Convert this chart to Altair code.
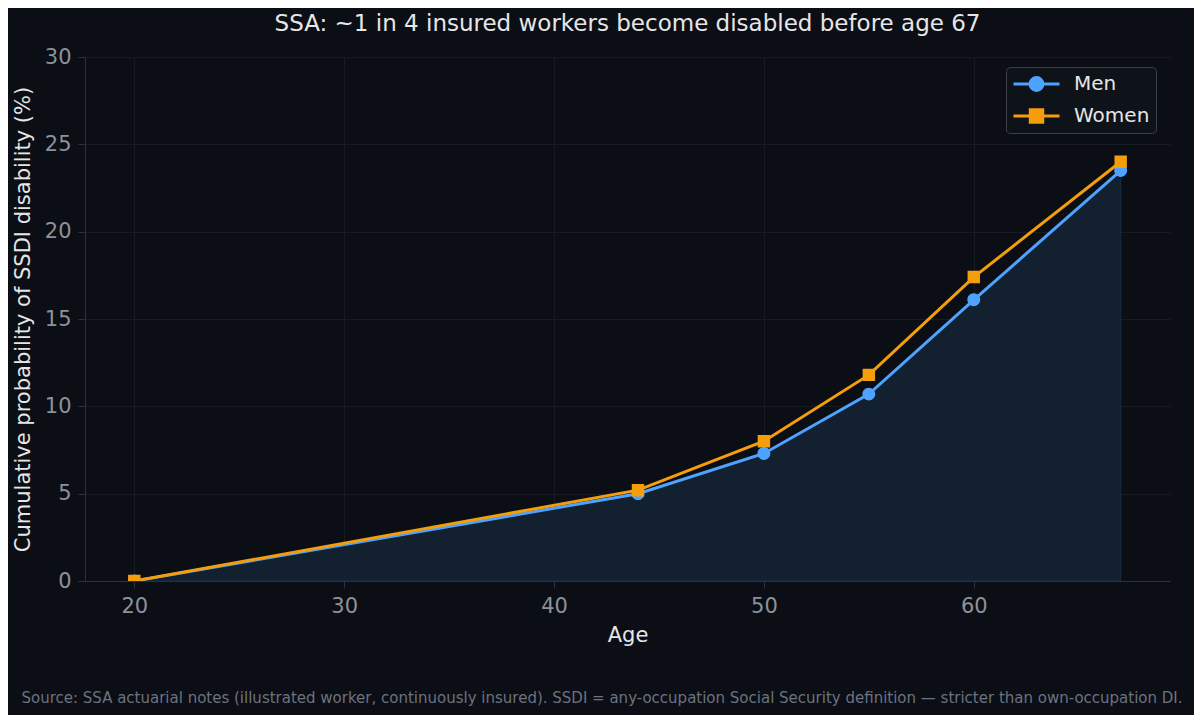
import altair as alt
import pandas as pd

ages = [20, 44, 50, 55, 60, 67]
men = [0.0, 5.0, 7.3, 10.7, 16.1, 23.5]
women = [0.0, 5.2, 8.0, 11.8, 17.4, 24.0]
series = ["Men", "Women"]
x_ticks = [20, 30, 40, 50, 60]
y_ticks = [0, 5, 10, 15, 20, 25, 30]

title = "SSA: ~1 in 4 insured workers become disabled before age 67"
source = ("Source: SSA actuarial notes (illustrated worker, continuously insured). "
          "SSDI = any-occupation Social Security definition \u2014 stricter than own-occupation DI.")

BG = "#0b0e14"
FONT = "DejaVu Sans"

df = pd.DataFrame({
    "Age": ages * 2,
    "Pct": men + women,
    "Series": ["Men"] * len(ages) + ["Women"] * len(ages),
})
df_men = df[df["Series"] == "Men"]

# legend symbols: a stroke segment with a marker in the middle
circle = "M-1,0H1M-0.28,0A0.28,0.28,0,1,1,0.28,0A0.28,0.28,0,1,1,-0.28,0Z"
square = "M-1,0H1M-0.27,-0.27H0.27V0.27H-0.27Z"

colors = alt.Scale(domain=series, range=["#4da3ff", "#f59e0b"])
shapes = alt.Scale(domain=series, range=[circle, square])

x = alt.X("Age:Q", scale=alt.Scale(domain=[17.65, 69.35], nice=False, zero=False),
          axis=alt.Axis(values=x_ticks, title="Age"))
y = alt.Y("Pct:Q", scale=alt.Scale(domain=[0, 30], nice=False),
          axis=alt.Axis(values=y_ticks, title="Cumulative probability of SSDI disability (%)"))

legend = alt.Legend(
    orient="none", legendX=921, legendY=10, title=None,
    symbolSize=2116, clipHeight=22, rowPadding=10, padding=6,
    fillColor="#0e1219", strokeColor="#3a3f48", cornerRadius=4,
    labelFontSize=20, labelColor="#e6e6e6", labelFont=FONT, labelOffset=13,
    symbolStrokeWidth=3,
)

area = alt.Chart(df_men).mark_area(color="#13202f", stroke="#1c2c42", strokeWidth=1).encode(x=x, y=y)

lines = alt.Chart(df).mark_line(strokeWidth=3, clip=True).encode(
    x=x, y=y, stroke=alt.Stroke("Series:N", scale=colors, legend=legend)
)

points = alt.Chart(df).mark_point(filled=True, size=2116, opacity=1, clip=True).encode(
    x=x, y=y,
    fill=alt.Fill("Series:N", scale=colors, legend=legend),
    shape=alt.Shape("Series:N", scale=shapes, legend=legend),
)

note = alt.Chart(pd.DataFrame({"t": [source]})).mark_text(
    font=FONT, fontSize=15, color="#6b7280", align="center", baseline="middle"
).encode(x=alt.value(517), y=alt.value(641), text="t:N")

chart = (
    alt.layer(area, lines, points, note)
    .properties(
        width=1085, height=524,
        title=alt.TitleParams(title, font=FONT, fontSize=23, fontWeight="normal",
                              color="#e6e6e6", offset=10),
        autosize=alt.AutoSizeParams(type="none"),
        padding={"left": 77, "top": 49, "right": 24, "bottom": 134},
        background=BG,
    )
    .configure_view(strokeWidth=0)
    .configure_axis(
        domainColor="#2a3242", tickColor="#2a3242", gridColor="#161b24",
        tickSize=7, labelFont=FONT, titleFont=FONT, labelFontSize=21,
        titleFontSize=21, labelColor="#8b929c", titleColor="#e6e6e6",
        titleFontWeight="normal",
    )
    .configure_axisX(labelPadding=7, titlePadding=8)
    .configure_axisY(labelPadding=7, titlePadding=11)
)

chart.save("out.html", embed_options={"renderer": "svg", "actions": False})
